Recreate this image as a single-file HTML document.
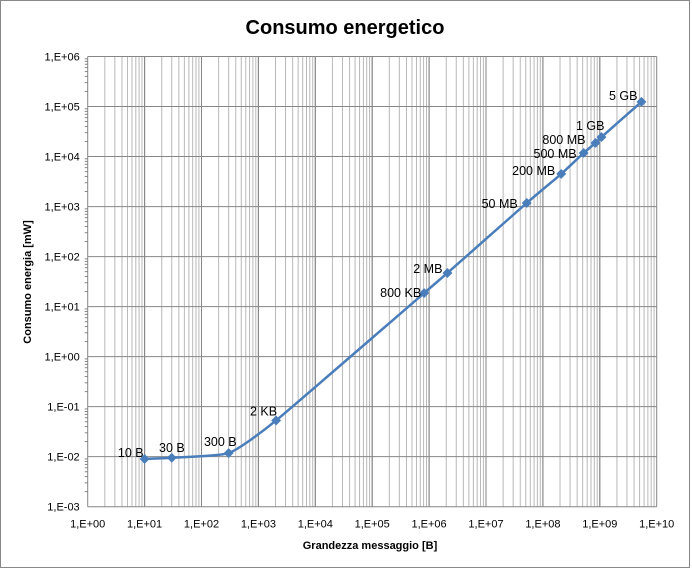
<!DOCTYPE html>
<html><head><meta charset="utf-8"><style>
body{margin:0;background:#fff}
svg{display:block;font-family:"Liberation Sans",Calibri,sans-serif}
</style></head><body>
<svg id="c" width="692" height="570">
<rect x="0.5" y="0.5" width="689" height="567" fill="#fff" stroke="#888"/>
<text x="345" y="34" text-anchor="middle" font-size="20" font-weight="bold">Consumo energetico</text>
<g id="grid"></g><g id="axes"></g><g id="series"></g>
<text x="370" y="549" text-anchor="middle" font-size="11" font-weight="bold">Grandezza messaggio  [B]</text>
<text transform="translate(31,282) rotate(-90)" text-anchor="middle" font-size="11" font-weight="bold">Consumo energia [mW]</text>
</svg>
<script>
const xVals=[10,30,300,2048,819200,2.1e6,5.2e7,2.1e8,5.2e8,8.4e8,1.07e9,5.4e9];
const yVals=[0.009,0.0095,0.0118,0.053,18.7,47,1180,4500,11800,18700,24500,124000];
const pointLabels=["10 B","30 B","300 B","2 KB","800 KB","2 MB","50 MB","200 MB","500 MB","800 MB","1 GB","5 GB"];
const xTicks=["1,E+00","1,E+01","1,E+02","1,E+03","1,E+04","1,E+05","1,E+06","1,E+07","1,E+08","1,E+09","1,E+10"];
const yTicks=["1,E-03","1,E-02","1,E-01","1,E+00","1,E+01","1,E+02","1,E+03","1,E+04","1,E+05","1,E+06"];
const labelDx=[-1,13,8,1,-3,-5,-9,-6,-7,-10,3,-4];
const labelDy=[-2,-6,-7,-5,4,0,5,1,5,1,-7,-2];
const L=87.7,R=656.7,T=56.5,B=506.7;
const xs=v=>L+Math.log10(v)*(R-L)/10;
const ys=v=>B-(Math.log10(v)+3)*(B-T)/9;
const NS="http://www.w3.org/2000/svg";
function mk(p,t,a){const e=document.createElementNS(NS,t);for(const k in a)e.setAttribute(k,a[k]);document.getElementById(p).appendChild(e);return e;}
for(let d=0;d<10;d++)for(let m=1;m<=10;m++){const v=m*Math.pow(10,d);const x=xs(v);
 const g=mk('grid','line',{x1:x,x2:x,y1:T,y2:B,stroke:m==1||m==10?'#868686':'#b8b8b8','stroke-width':1});
 }
for(let i=0;i<yTicks.length;i++){const y=ys(Math.pow(10,i-3));
 const g=mk('grid','line',{x1:L,x2:R,y1:y,y2:y,stroke:'#868686'});
 
 const t=mk('axes','text',{x:L-8,y:y+4,'text-anchor':'end','font-size':11});t.textContent=yTicks[i];
 
 for(let m=2;m<10&&i<9;m++){const yy=ys(m*Math.pow(10,i-3));const k=mk('axes','line',{x1:L-3,x2:L,y1:yy,y2:yy,stroke:'#868686'});
  }}
xTicks.forEach((s,i)=>{const t=mk('axes','text',{x:xs(Math.pow(10,i)),y:B+21,'text-anchor':'middle','font-size':11});t.textContent=s;
 });
const P=xVals.map((v,i)=>[xs(v),ys(yVals[i])]);
let d='M'+P[0][0]+','+P[0][1];
for(let i=0;i<P.length-1;i++){const p0=P[Math.max(0,i-1)],p1=P[i],p2=P[i+1],p3=P[Math.min(P.length-1,i+2)];const k=1/12;
 d+=` C${p1[0]+(p2[0]-p0[0])*k},${p1[1]+(p2[1]-p0[1])*k} ${p2[0]-(p3[0]-p1[0])*k},${p2[1]-(p3[1]-p1[1])*k} ${p2[0]},${p2[1]}`;}
const ln=mk('series','path',{d:d,fill:'none',stroke:'#4a7ebb','stroke-width':2.5});

P.forEach((p,i)=>{const m=mk('series','rect',{x:p[0]-3.5,y:p[1]-3.5,width:7,height:7,fill:'#4a7ebb',transform:`rotate(45 ${p[0]} ${p[1]})`});
 
 const t=mk('series','text',{x:p[0]+labelDx[i],y:p[1]+labelDy[i],'text-anchor':'end','font-size':12.5});t.textContent=pointLabels[i];
 });
</script>
</body></html>
